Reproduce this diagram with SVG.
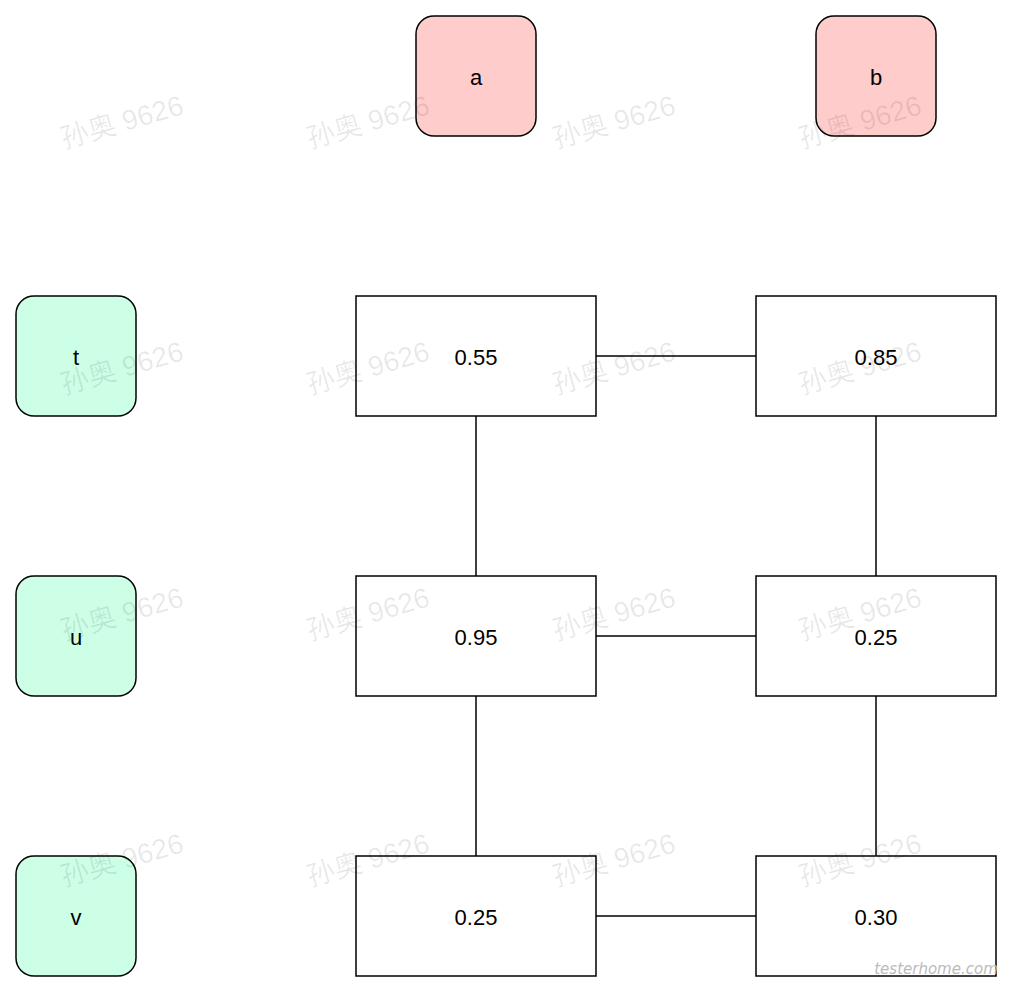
<svg xmlns="http://www.w3.org/2000/svg" width="1014" height="994" viewBox="0 0 1014 994">
<style>
.bg{fill:#ffffff}
.red{fill:#ffcccc;stroke:#000;stroke-width:1.5}
.green{fill:#ccffe6;stroke:#000;stroke-width:1.5}
.cell{fill:#ffffff;stroke:#000;stroke-width:1.5}
.lbl{font-family:"Liberation Sans",Arial,sans-serif;font-size:22px;fill:#000;text-anchor:middle;dominant-baseline:central}
.edge{stroke:#000;stroke-width:1.5;fill:none}
.wm{font-family:"Liberation Sans","Noto Sans CJK SC",sans-serif;font-size:28px;fill:#000;fill-opacity:0.09;text-anchor:middle;dominant-baseline:central}
.logo{font-family:"DejaVu Sans",sans-serif;font-size:15px;font-style:italic;fill:#bbbbbb;text-anchor:middle}
</style>
<rect class="bg" x="0" y="0" width="1014" height="994"/>
<g id="connectors">
<line class="edge" x1="596" y1="356" x2="756" y2="356"/>
<line class="edge" x1="596" y1="636" x2="756" y2="636"/>
<line class="edge" x1="596" y1="916" x2="756" y2="916"/>
<line class="edge" x1="476" y1="416" x2="476" y2="576"/>
<line class="edge" x1="476" y1="696" x2="476" y2="856"/>
<line class="edge" x1="876" y1="416" x2="876" y2="576"/>
<line class="edge" x1="876" y1="696" x2="876" y2="856"/>
</g>
<g id="node-a"><rect class="red" x="416" y="16" width="120" height="120" rx="18"/><text class="lbl" x="476" y="77">a</text></g>
<g id="node-b"><rect class="red" x="816" y="16" width="120" height="120" rx="18"/><text class="lbl" x="876" y="77">b</text></g>
<g id="node-t"><rect class="green" x="16" y="296" width="120" height="120" rx="18"/><text class="lbl" x="76" y="357">t</text></g>
<g id="node-u"><rect class="green" x="16" y="576" width="120" height="120" rx="18"/><text class="lbl" x="76" y="637">u</text></g>
<g id="node-v"><rect class="green" x="16" y="856" width="120" height="120" rx="18"/><text class="lbl" x="76" y="917">v</text></g>
<g id="cell-ta"><rect class="cell" x="356" y="296" width="240" height="120"/><text class="lbl" x="476" y="357">0.55</text></g>
<g id="cell-tb"><rect class="cell" x="756" y="296" width="240" height="120"/><text class="lbl" x="876" y="357">0.85</text></g>
<g id="cell-ua"><rect class="cell" x="356" y="576" width="240" height="120"/><text class="lbl" x="476" y="637">0.95</text></g>
<g id="cell-ub"><rect class="cell" x="756" y="576" width="240" height="120"/><text class="lbl" x="876" y="637">0.25</text></g>
<g id="cell-va"><rect class="cell" x="356" y="856" width="240" height="120"/><text class="lbl" x="476" y="917">0.25</text></g>
<g id="cell-vb"><rect class="cell" x="756" y="856" width="240" height="120"/><text class="lbl" x="876" y="917">0.30</text></g>
<g id="watermarks">
<text class="wm" transform="translate(122,122) rotate(-16)">孙奥 9626</text>
<text class="wm" transform="translate(368,122) rotate(-16)">孙奥 9626</text>
<text class="wm" transform="translate(614,122) rotate(-16)">孙奥 9626</text>
<text class="wm" transform="translate(860,122) rotate(-16)">孙奥 9626</text>
<text class="wm" transform="translate(122,368) rotate(-16)">孙奥 9626</text>
<text class="wm" transform="translate(368,368) rotate(-16)">孙奥 9626</text>
<text class="wm" transform="translate(614,368) rotate(-16)">孙奥 9626</text>
<text class="wm" transform="translate(860,368) rotate(-16)">孙奥 9626</text>
<text class="wm" transform="translate(122,614) rotate(-16)">孙奥 9626</text>
<text class="wm" transform="translate(368,614) rotate(-16)">孙奥 9626</text>
<text class="wm" transform="translate(614,614) rotate(-16)">孙奥 9626</text>
<text class="wm" transform="translate(860,614) rotate(-16)">孙奥 9626</text>
<text class="wm" transform="translate(122,860) rotate(-16)">孙奥 9626</text>
<text class="wm" transform="translate(368,860) rotate(-16)">孙奥 9626</text>
<text class="wm" transform="translate(614,860) rotate(-16)">孙奥 9626</text>
<text class="wm" transform="translate(860,860) rotate(-16)">孙奥 9626</text>
</g>
<text class="logo" x="936" y="974">testerhome.com</text>
</svg>
